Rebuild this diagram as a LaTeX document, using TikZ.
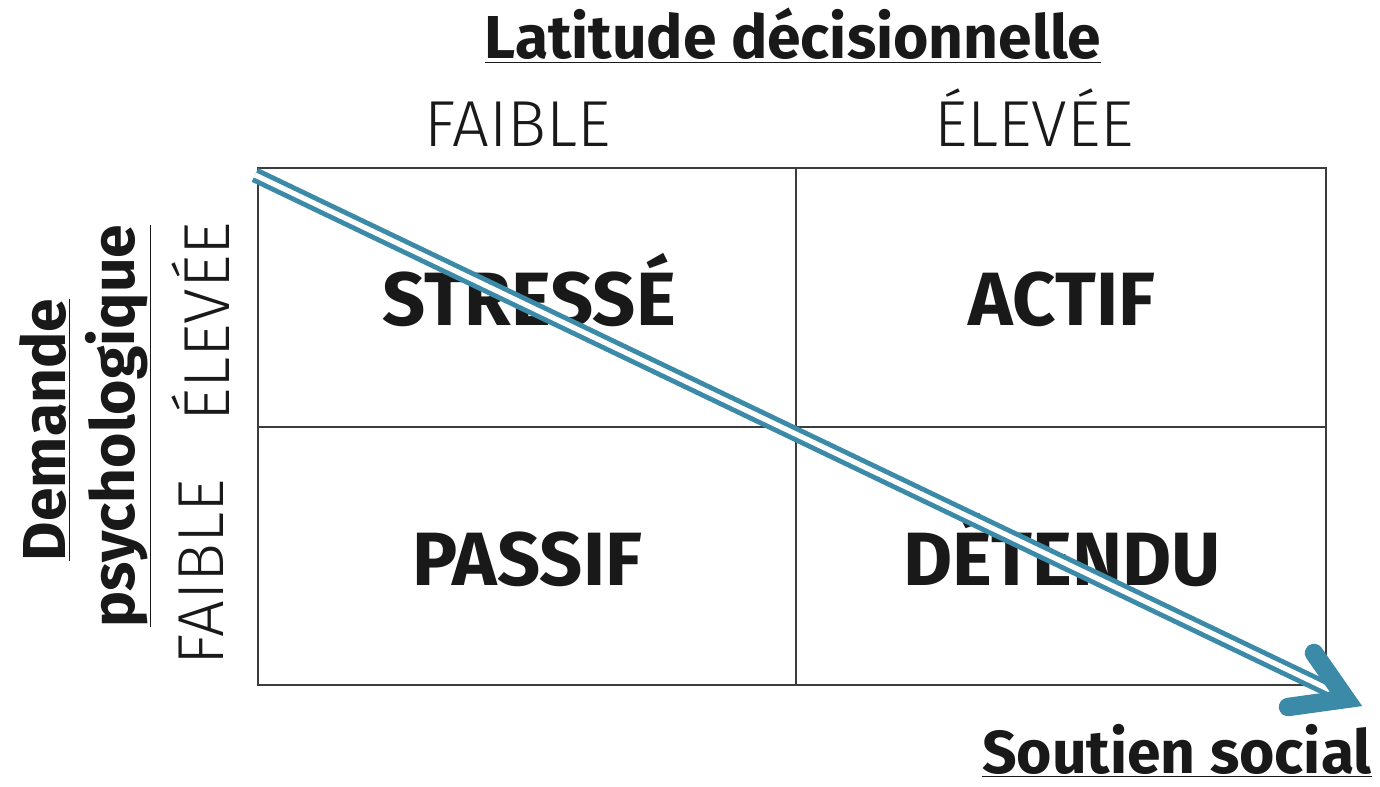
\documentclass[tikz,border=0pt]{standalone}
\usepackage{fontspec}
\setmainfont{Fira Sans}
\newfontfamily\legere{Fira Sans Light}
\definecolor{bleufleche}{RGB}{58,138,168}
\definecolor{encre}{RGB}{25,25,25}
\begin{document}
\begin{tikzpicture}[
				x=0.02cm, y=-0.02cm,
				titre/.style={text=encre, font=\bfseries\fontsize{34.5}{38}\selectfont, inner sep=0pt},
				niveau/.style={text=encre, font=\legere\fontsize{37}{40}\selectfont, inner sep=0pt},
				quadrant/.style={text=encre, font=\bfseries\fontsize{43}{46}\selectfont, inner sep=0pt, anchor=base},
				grille/.style={draw=encre!85, line width=1.2pt},
				fleche/.style={draw=bleufleche, line width=2.8pt, double=white, double distance=3pt},
				pointe/.style={draw=bleufleche, line width=10.5pt, line cap=round, line join=miter}
				]
				\useasboundingbox (0,0) rectangle (1380,787);
				
				% Grille
				\coordinate (hg) at (258,168);
				\coordinate (bd) at (1326,685);
				\coordinate (hm) at (796,168);
				\coordinate (bm) at (796,685);
				\coordinate (gm) at (258,427);
				\coordinate (dm) at (1326,427);
				\draw[grille] (hg) rectangle (bd);
				\draw[grille] (hm) -- (bm);
				\draw[grille] (gm) -- (dm);
				
				% Quadrants
				\node[quadrant] (stresse) at (529,326) {STRESSÉ};
				\node[quadrant] (actif) at (1062,326) {ACTIF};
				\node[quadrant] (passif) at (527,585) {PASSIF};
				\node[quadrant] (detendu) at (1062,585) {DÉTENDU};
				
				% Axes
				\node[titre, anchor=base] (latitude) at (793,59) {\underline{Latitude décisionnelle}};
				\node[niveau, anchor=base] (lfaible) at (518,147) {FAIBLE};
				\node[niveau, anchor=base] (leleve) at (1034,147) {ÉLEVÉE};
				\node[titre, rotate=90] (demande) at (45,430) {\underline{Demande}};
				\node[titre, rotate=90] (psycho) at (118,426) {\underline{psychologique}};
				\node[niveau, rotate=90] (dfaible) at (201,572) {FAIBLE};
				\node[niveau, rotate=90] (deleve) at (201,322) {ÉLEVÉE};
				\node[titre, anchor=base east] (soutien) at (1372,773) {\underline{Soutien social}};
				
				% Fleche
				\coordinate (depart) at (255,175);
				\coordinate (fin) at (1330,690);
				\coordinate (tip) at (1346,699);
				\draw[fleche] (depart) -- (fin);
				\draw[pointe] (1314,653) -- (tip) -- (1288,707);
				
			\end{tikzpicture}
\end{document}
